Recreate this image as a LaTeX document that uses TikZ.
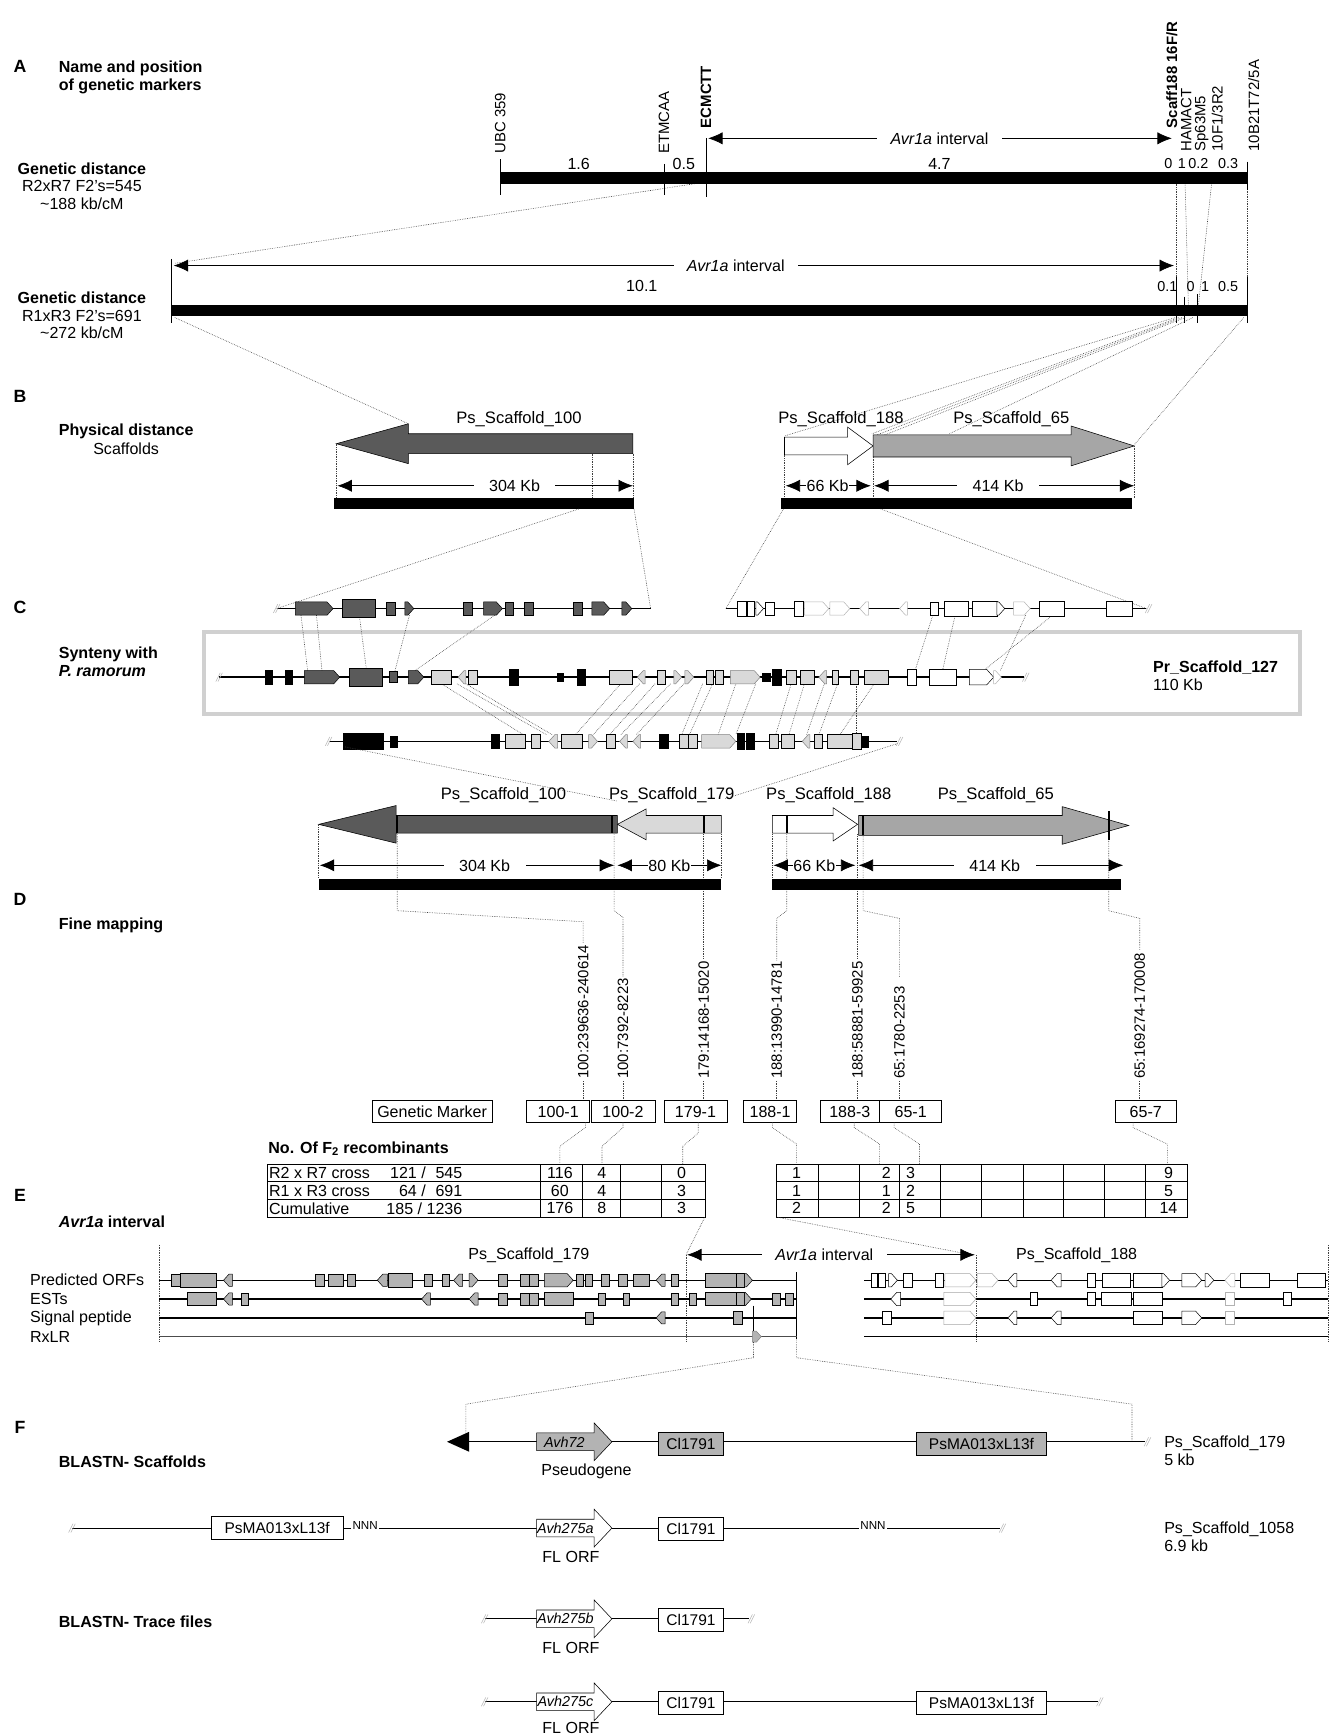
\documentclass[tikz,border=0pt]{standalone}
\usepackage{fontspec}
\setmainfont{Liberation Sans}
\usetikzlibrary{arrows.meta}
\definecolor{dg}{HTML}{5A5A5A}
\definecolor{mg}{HTML}{A6A6A6}
\definecolor{lg}{HTML}{D9D9D9}
\definecolor{eg}{HTML}{B3B3B3}
\definecolor{fr}{HTML}{D0D0D0}
\newcommand{\GB}[4]{\path[gene,#4] (#1,\gy-#3) rectangle (#2,\gy+#3);}
\newcommand{\GR}[4]{\path[gene,#4] (#1,\gy-#3) -- ({max(#1,#2-0.9*#3)},\gy-#3) -- (#2,\gy) -- ({max(#1,#2-0.9*#3)},\gy+#3) -- (#1,\gy+#3) -- cycle;}
\newcommand{\GL}[4]{\path[gene,#4] (#2,\gy-#3) -- ({min(#2,#1+0.9*#3)},\gy-#3) -- (#1,\gy) -- ({min(#2,#1+0.9*#3)},\gy+#3) -- (#2,\gy+#3) -- cycle;}
\newcommand{\ScL}[7]{\filldraw[draw=black,line width=0.5pt,fill=#7] (#1,#4) -- (#2,#4-#6) -- (#2,#4-#5) -- (#3,#4-#5) -- (#3,#4+#5) -- (#2,#4+#5) -- (#2,#4+#6) -- cycle;}
\newcommand{\ScR}[7]{\filldraw[draw=black,line width=0.5pt,fill=#7] (#1,#4-#5) -- (#2,#4-#5) -- (#2,#4-#6) -- (#3,#4) -- (#2,#4+#6) -- (#2,#4+#5) -- (#1,#4+#5) -- cycle;}
\newcommand{\Brk}[2]{\draw[gray!55,line width=0.5pt] (#1-3,#2+4)--(#1+1,#2-4) (#1-1,#2+4)--(#1+3,#2-4);}
\begin{document}
\begin{tikzpicture}[x=1pt,y=-1pt, font=\fontsize{14.5}{16}\selectfont,
 conn/.style={densely dotted, line width=0.55pt, black!75},
 dbl/.style={{Latex[length=13pt,width=11pt]}-{Latex[length=13pt,width=11pt]}, line width=0.6pt},
 wl/.style={fill=white, inner xsep=12pt, inner ysep=1pt},
 wk/.style={fill=white, inner xsep=14pt, inner ysep=1pt},
 wk0/.style={fill=white, inner xsep=0.5pt, inner ysep=1pt},
 gene/.style={draw=black, line width=0.45pt},
 track/.style={line width=1.3pt},
 sec/.style={font=\fontsize{16}{18}\selectfont\bfseries},
 hd/.style={font=\fontsize{14.5}{16.5}\selectfont\bfseries, anchor=west, align=left, inner sep=0pt},
 vlab/.style={rotate=90, anchor=west, inner sep=0pt, font=\fontsize{13.5}{15}\selectfont},
 vlabb/.style={rotate=90, anchor=west, inner sep=0pt, font=\fontsize{13.5}{15}\selectfont\bfseries},
 sclab/.style={font=\fontsize{15}{17}\selectfont},
 smn/.style={inner sep=0pt, font=\fontsize{13}{14}\selectfont},
 mbox/.style={draw, line width=0.5pt, minimum height=20pt, inner sep=0pt},
 fbox/.style={draw, line width=0.8pt, minimum height=21pt, inner sep=0pt, font=\fontsize{14}{15}\selectfont},
 avh/.style={font=\fontsize{13}{14}\selectfont\itshape, inner sep=0pt}
]
\useasboundingbox (0,0) rectangle (1206,1568);

% ================= A =================
\node[sec] (secA) at (18,60) {A};
\node[hd] (hA) at (53,70) {Name and position\\of genetic markers};
\node[align=center, font=\fontsize{14.5}{15.8}\selectfont] (gd1) at (74,168) {\textbf{Genetic distance}\\R2xR7 F2's=545\\\textasciitilde188 kb/cM};
\node[align=center, font=\fontsize{14.5}{15.8}\selectfont] (gd2) at (74,285) {\textbf{Genetic distance}\\R1xR3 F2's=691\\\textasciitilde272 kb/cM};

\draw[conn] (628,166) -- (158,238);
\draw[conn] (1063,166) -- (1063,276);
\draw[conn] (1071,166) -- (1074,276);
\draw[conn] (1095,166) -- (1083,276);
\draw[conn] (1127,166) -- (1127,276);

\fill (452,155) rectangle (1127,166);
\draw[line width=0.6pt] (452,144)--(452,176) (600,148)--(600,176) (638,125)--(638,178) (1127,146)--(1127,172);
\node[vlab] (mUBC) at (452,139) {UBC 359};
\node[vlab] (mET) at (600,139) {ETMCAA};
\node[vlabb] (mEC) at (638,116) {ECMCTT};
\node[vlabb] (mSC) at (1059,116) {Scaff188 16F/R};
\node[vlab] (mHA) at (1072,137) {HAMACT};
\node[vlab] (mSP) at (1086,137) {Sp63M5};
\node[vlab] (mTF) at (1100,137) {10F1/3R2};
\node[vlab] (mTB) at (1133,137) {10B21T72/5A};
\coordinate (av1L) at (640,125); \coordinate (av1R) at (1059,125);
\draw[dbl] (av1L) -- (av1R);
\node[wl] (av1) at (849,125) {\textit{Avr1a} interval};
\foreach \x/\t in {523/1.6, 618/0.5, 849/4.7} \node[inner sep=0pt] at (\x,148) {\t};
\foreach \x/\t in {1056/0, 1068/1, 1083/0.2, 1110/0.3} \node[smn] at (\x,148) {\t};

\fill (155,276) rectangle (1127,286);
\draw[line width=0.6pt] (155,234)--(155,292) (1063,250)--(1063,292) (1070,268)--(1070,292) (1082,266)--(1082,292) (1127,250)--(1127,292);
\coordinate (av2L) at (157,240); \coordinate (av2R) at (1061,240);
\draw[dbl] (av2L) -- (av2R);
\node[wl] (av2) at (665,240) {\textit{Avr1a} interval};
\node at (580,258) {10.1};
\foreach \x/\t in {1055/0.1, 1076/0, 1089/1, 1110/0.5} \node[smn] at (\x,259) {\t};

% ================= B =================
\node[sec] (secB) at (18,358) {B};
\node[align=center, font=\fontsize{14.5}{16.5}\selectfont] (hB) at (114,397) {\textbf{Physical distance}\\Scaffolds};
\draw[conn] (158,287) -- (369,383);
\draw[conn] (1062,287) -- (709,394);
\draw[conn] (1065,287) -- (788,392);
\draw[conn] (1068,287) -- (790,394);
\draw[conn] (1071,287) -- (792,396);
\draw[conn] (1078,287) -- (858,392);
\draw[conn] (1124,287) -- (1025,402);

\ScL{304}{369}{572}{401}{9}{18}{dg}
\node[sclab] (s100) at (469,379) {Ps\_Scaffold\_100};
\draw[conn] (304,401)--(304,450) (535,410)--(535,450) (572,410)--(572,450);
\draw[dbl] (305,439) -- (572,439);
\node[wk] at (465,439) {304 Kb};
\fill (302,450) rectangle (573,460);

\ScR{709}{766}{789}{403}{8}{17}{white}
\ScR{789}{968}{1025}{403}{10}{18}{mg}
\node[sclab] (s188) at (760,379) {Ps\_Scaffold\_188};
\node[sclab] (s65) at (914,379) {Ps\_Scaffold\_65};
\draw[conn] (709,411)--(709,450) (789,413)--(789,450) (1025,403)--(1025,450);
\draw[dbl] (710,439) -- (787,439);
\node[wk0] at (748,439) {66 Kb};
\draw[dbl] (790,439) -- (1025,439);
\node[wk] at (902,439) {414 Kb};
\fill (706,450) rectangle (1023,460);

\draw[conn] (523,460) -- (250,550);
\draw[conn] (573,460) -- (588,550);
\draw[conn] (708,460) -- (656,550);
\draw[conn] (796,460) -- (1036,550);

% ================= C =================
\node[sec] (secC) at (18,549) {C};
\node[hd] (hC) at (53,598) {Synteny with\\\textit{P. ramorum}};
\draw[fr, line width=3.5pt] (184,571) rectangle (1175,645);
\node[anchor=west, align=left, inner sep=0pt, font=\fontsize{14.5}{16}\selectfont] (pr127) at (1042,611) {\textbf{Pr\_Scaffold\_127}\\110 Kb};

\foreach \a/\b/\c/\d in {272/556/278/606, 286/556/291/606, 325/558/331/604, 370/556/357/606, 447/556/375/606,
  843/556/827/606, 863/557/852/605, 927/556/904/606, 950/557/889/606}
  \draw[conn] (\a,\b) -- (\c,\d);
\foreach \a/\c in {399/473, 413/494, 421/499, 561/520, 578/536, 592/551, 606/561, 618/575, 635/616, 644/623, 665/649, 683/665, 715/701, 727/713, 745/729, 757/740, 790/759, 774/774}
  \draw[conn] (\a,618) -- (\c,664);

\def\gy{550}
\draw[track] (250,550)--(588,550); \Brk{250}{550}
\foreach \a/\b/\h in {309/339/8, 349/357/6, 419/427/6, 457/464/6, 474/482/6, 518/526/6} {\GB{\a}{\b}{\h}{fill=dg}}
\foreach \a/\b in {267/301, 366/374, 437/454, 535/551, 562/571} {\GR{\a}{\b}{6}{fill=dg}}
\draw[track] (656,550)--(1036,550); \Brk{1038}{550}
\foreach \a/\b/\h in {666/674/7, 675/682/7, 692/700/6, 718/726/7, 841/848/6, 853/875/7, 879/901/7, 939/962/7, 1000/1023/7} {\GB{\a}{\b}{\h}{fill=white}}
\foreach \a/\b in {683/690, 901/908} {\GR{\a}{\b}{6}{fill=white}}
\foreach \a/\b in {727/749, 750/768, 916/931} {\GR{\a}{\b}{6}{fill=white,draw=gray!60}}
\foreach \a/\b in {777/785, 813/820} {\GL{\a}{\b}{6}{fill=white,draw=gray!60}}

\def\gy{612}
\draw[track] (198,612)--(925,612); \Brk{198}{612}\Brk{927}{612}
\foreach \a/\b/\h in {240/246/6, 258/264/6, 460/468/7, 504/509/4, 522/529/7, 689/696/4, 698/706/7} {\GB{\a}{\b}{\h}{fill=black}}
\foreach \a/\b in {275/307, 369/383} {\GR{\a}{\b}{6}{fill=dg}}
\foreach \a/\b/\h in {316/345/8, 352/359/5} {\GB{\a}{\b}{\h}{fill=dg}}
\foreach \a/\b in {390/408, 423/431, 551/571, 594/601, 638/645, 646/654, 711/720, 723/736, 752/758, 768/776, 781/803} {\GB{\a}{\b}{6}{fill=lg}}
\foreach \a/\b in {414/421, 576/583, 740/747} {\GL{\a}{\b}{6}{fill=lg,draw=gray}}
\foreach \a/\b in {609/616, 619/627, 660/687} {\GR{\a}{\b}{6}{fill=lg,draw=gray}}
\foreach \a/\b in {820/828, 840/864} {\GB{\a}{\b}{7}{fill=white}}
\GR{876}{898}{7}{fill=white}
\GR{898}{905}{6}{fill=white,draw=gray!60}

\def\gy{670}
\draw[track] (297,670)--(811,670); \Brk{297}{670}\Brk{813}{670}
\foreach \a/\b/\h in {310/346/7, 353/359/5, 444/451/6, 596/604/6, 666/673/7, 674/682/7, 778/785/5} {\GB{\a}{\b}{\h}{fill=black}}
\foreach \a/\b/\h in {457/475/6, 480/488/6, 507/526/6, 548/556/6, 614/622/6, 622/630/6, 695/703/6, 706/718/6, 736/743/6, 748/770/6, 770/778/7} {\GB{\a}{\b}{\h}{fill=lg}}
\foreach \a/\b in {496/504, 560/567, 572/579, 725/732} {\GL{\a}{\b}{6}{fill=lg,draw=gray}}
\foreach \a/\b in {532/540, 634/665} {\GR{\a}{\b}{6}{fill=lg,draw=gray}}

\draw[conn] (312,675) -- (558,724);
\draw[conn] (811,672) -- (655,722);

% ================= D (scaffolds) =================
\node[sclab] (d100) at (455,719) {Ps\_Scaffold\_100};
\node[sclab] (d179) at (607,719) {Ps\_Scaffold\_179};
\node[sclab] (d188) at (749,719) {Ps\_Scaffold\_188};
\node[sclab] (d65) at (900,719) {Ps\_Scaffold\_65};

\draw[conn] (288,746)--(288,794) (652,754)--(652,794) (698,754)--(698,794);
\draw[conn] (359,754)--(359,823)--(527,833)--(527,852);
\draw[conn] (555,754)--(555,823)--(563,829)--(563,883);
\draw[conn] (636,754)--(636,866);
\draw[conn] (711,754)--(711,823)--(702,830)--(702,868);
\draw[conn] (775,754)--(775,866);
\draw[conn] (780,754)--(780,823)--(813,830)--(813,883);
\draw[conn] (1002,754)--(1002,823)--(1030,830)--(1030,859);

\ScL{288}{358}{558}{745}{8}{17}{dg}
\ScL{558}{584}{652}{745}{8}{14}{lg}
\ScR{698}{753}{775}{745}{8}{15}{white}
\ScR{776}{960}{1020}{746}{9}{17}{mg}
\draw[line width=1.4pt] (359,737)--(359,753) (553,737)--(553,753) (636,737)--(636,753) (711,737)--(711,753) (780,737)--(780,755) (1002,733)--(1002,759);

\draw[dbl] (289,782) -- (555,782); \node[wk] at (438,782) {304 Kb};
\draw[dbl] (558,782) -- (652,782); \node[wk0] at (605,782) {80 Kb};
\draw[dbl] (699,782) -- (773,782); \node[wk0] at (736,782) {66 Kb};
\draw[dbl] (776,782) -- (1015,782); \node[wk] at (899,782) {414 Kb};
\fill (288,794) rectangle (652,804);
\fill (698,794) rectangle (1013,804);

\node[sec] (secD) at (18,813) {D};
\node[hd] (hD) at (53,836) {Fine mapping};

\foreach \x/\t in {527/100:239636-240614, 563/100:7392-8223, 636/179:14168-15020, 702/188:13990-14781, 775/188:58881-59925, 813/65:1780-2253, 1030/65:169274-170008}
  {\node[vlab] at (\x,975) {\t};
   \draw[conn] (\x,977)--(\x,995);}

\node[mbox, minimum width=109pt] (gm) at (390.5,1004.5) {Genetic Marker};
\node[mbox, minimum width=57pt] (m1001) at (504.5,1004.5) {100-1};
\node[mbox, minimum width=58pt] (m1002) at (563,1004.5) {100-2};
\node[mbox, minimum width=57pt] (m1791) at (628.5,1004.5) {179-1};
\node[mbox, minimum width=48pt] (m1881) at (696,1004.5) {188-1};
\node[mbox, minimum width=54pt] (m1883) at (768,1004.5) {188-3};
\node[mbox, minimum width=56pt] (m651) at (823,1004.5) {65-1};
\node[mbox, minimum width=55pt] (m657) at (1035.5,1004.5) {65-7};

\draw[conn] (529,1014)--(529,1019)--(506,1036)--(506,1052);
\draw[conn] (563,1014)--(563,1019)--(544,1036)--(544,1052);
\draw[conn] (631,1014)--(631,1024)--(617,1036)--(617,1052);
\draw[conn] (698,1014)--(698,1019)--(720,1034)--(720,1052);
\draw[conn] (772,1014)--(772,1019)--(795,1034)--(795,1052);
\draw[conn] (808,1014)--(808,1019)--(831,1034)--(831,1052);
\draw[conn] (1024,1014)--(1024,1019)--(1055,1034)--(1055,1052);

\node[anchor=west, font=\fontsize{14.5}{16}\selectfont\bfseries] (nof) at (239,1038) {No. Of F\textsubscript{2} recombinants};
\draw[line width=0.6pt] (242,1052) rectangle (637,1100);
\draw[line width=0.6pt] (242,1068)--(637,1068) (242,1084)--(637,1084);
\draw[line width=0.6pt] (488,1052)--(488,1100) (526,1052)--(526,1100) (561,1052)--(561,1100) (598,1052)--(598,1100);
\foreach \y/\a in {1060/R2 x R7 cross, 1076/R1 x R3 cross, 1092/Cumulative}
  {\node[anchor=west, inner sep=1pt] at (242,\y) {\a};}
\node[anchor=east, inner sep=0pt] at (385,1060) {121 /};
\node[anchor=east, inner sep=0pt] at (418,1060) {545};
\node[anchor=east, inner sep=0pt] at (385,1076) {64 /};
\node[anchor=east, inner sep=0pt] at (418,1076) {691};
\node[anchor=east, inner sep=0pt] at (418,1092) {185 / 1236};
\foreach \y/\p/\q/\r in {1060/116/4/0, 1076/60/4/3, 1092/176/8/3}
  {\node at (506,\y) {\p}; \node at (544,\y) {\q}; \node at (616,\y) {\r};}
\draw[line width=0.6pt] (702,1052) rectangle (1073,1100);
\draw[line width=0.6pt] (702,1068)--(1073,1068) (702,1084)--(1073,1084);
\foreach \x in {740,777,813,850,887,925,961,998,1035} \draw[line width=0.6pt] (\x,1052)--(\x,1100);
\foreach \y/\p/\q/\r/\s in {1060/1/2/3/9, 1076/1/1/2/5, 1092/2/2/5/14}
  {\node at (720,\y) {\p}; \node at (801,\y) {\q}; \node at (823,\y) {\r}; \node at (1056,\y) {\s};}

\draw[conn] (637,1100) -- (620,1134);
\draw[conn] (702,1100) -- (878,1134);

% ================= E =================
\node[sec] (secE) at (18,1080) {E};
\node[hd] (hE) at (53,1104) {\textit{Avr1a} interval};
\node (e179) at (478,1134) {Ps\_Scaffold\_179};
\node (e188) at (973,1134) {Ps\_Scaffold\_188};
\coordinate (av3L) at (621,1134); \coordinate (av3R) at (881,1134);
\draw[dbl] (av3L) -- (av3R);
\node[wl] (av3) at (745,1134) {\textit{Avr1a} interval};
\foreach \y/\t in {1157/Predicted ORFs, 1174/ESTs, 1191/Signal peptide, 1208/RxLR}
  \node[anchor=west, inner sep=0pt] at (27,\y) {\t};

\draw[conn] (144,1125)--(144,1212) (620,1134)--(620,1212) (882,1134)--(882,1212) (1200,1125)--(1200,1212);
\draw[line width=0.5pt] (720,1150)--(720,1210);
\draw[track] (144,1157)--(720,1157) (144,1174)--(720,1174) (144,1191)--(720,1191);
\draw[line width=0.8pt, black!70] (144,1208)--(720,1208);
\draw[track] (781,1157)--(1200,1157) (781,1174)--(1200,1174) (781,1191)--(1200,1191) (781,1208)--(1200,1208);

\def\gy{1157}
\foreach \a/\b/\h in {155/163/5.5, 163/195/6, 285/293/5.5, 297/310/5.5, 314/321/5.5, 351/373/6, 383/391/5.5, 400/406/5.5, 450/458/5.5, 470/478/5.5, 478/486/5.5, 521/527/5.5, 529/535/5.5, 543/551/5.5, 559/567/5.5, 572/587/5.5, 607/613/5.5, 637/665/6, 665/673/6} {\GB{\a}{\b}{\h}{fill=eg}}
\foreach \a/\b in {202/210, 341/350, 410/418, 593/601} {\GL{\a}{\b}{5.5}{fill=eg}}
\foreach \a/\b in {424/432, 492/518, 673/680} {\GR{\a}{\b}{6}{fill=eg}}
\foreach \a/\b in {787/793, 794/800, 816/824, 845/852, 983/990, 996/1021, 1024/1050, 1121/1147, 1172/1198} {\GB{\a}{\b}{6}{fill=white}}
\foreach \a/\b in {803/811, 1050/1057, 1068/1086, 1089/1097} {\GR{\a}{\b}{6}{fill=white}}
\foreach \a/\b in {854/882, 883/902} {\GR{\a}{\b}{6}{fill=white,draw=gray!70}}
\foreach \a/\b in {911/919, 950/959} {\GL{\a}{\b}{6}{fill=white}}
\GL{1107}{1116}{6}{fill=white,draw=gray!60}

\def\gy{1174}
\foreach \a/\b/\h in {169/195/6, 218/224/5.5, 450/458/5.5, 470/478/5.5, 478/486/5.5, 492/518/6, 541/547/5.5, 563/569/5.5, 607/613/5.5, 623/629/5.5, 637/665/6, 665/673/6, 698/705/5.5, 710/717/5.5} {\GB{\a}{\b}{\h}{fill=eg}}
\foreach \a/\b in {202/210, 381/389, 424/432} {\GL{\a}{\b}{5.5}{fill=eg}}
\GR{673}{679}{6}{fill=eg}
\foreach \a/\b in {931/937, 983/990, 995/1022, 1024/1050, 1160/1167} {\GB{\a}{\b}{6}{fill=white}}
\GL{805}{814}{6}{fill=white}
\GR{853}{882}{6}{fill=white,draw=gray!70}
\GB{1107}{1115}{6}{fill=white,draw=gray!60}

\def\gy{1191}
\GB{529}{536}{5.5}{fill=eg}
\GL{593}{601}{5.5}{fill=eg}
\GB{663}{671}{6}{fill=eg}
\foreach \a/\b in {797/805, 1024/1050} {\GB{\a}{\b}{6}{fill=white}}
\GR{853}{882}{6}{fill=white,draw=gray!70}
\foreach \a/\b in {911/919, 950/959} {\GL{\a}{\b}{6}{fill=white}}
\GR{1068}{1086}{6}{fill=white}
\GB{1107}{1115}{6}{fill=white,draw=gray!60}

\def\gy{1208}
\GR{680}{688}{5}{fill=eg,draw=gray}

% E -> F
\draw[line width=0.5pt] (681,1180)--(681,1203);
\draw[conn] (681,1213)--(681,1227)--(421,1269)--(421,1303);
\draw[conn] (720,1210)--(720,1227)--(1023,1269)--(1023,1303);

% ================= F =================
\node[sec] (secF) at (18,1290) {F};
\node[hd] (hF1) at (53,1321) {BLASTN- Scaffolds};
\node[hd] (hF2) at (53,1466) {BLASTN- Trace files};

\draw[line width=0.8pt] (420,1303) -- (1035,1303); \Brk{1037}{1303}
\fill (404,1303) -- (424,1294) -- (424,1312) -- cycle;
\ScR{485}{537}{553}{1303}{8}{17}{eg}
\node[avh] at (510,1303) {Avh72};
\node at (530,1330) {Pseudogene};
\node[fbox, fill=eg, minimum width=59pt] (c1) at (624.5,1305) {Cl1791};
\node[fbox, fill=eg, minimum width=118pt] (p1) at (887,1305) {PsMA013xL13f};
\node[anchor=west, align=left, inner sep=0pt] at (1052,1311) {Ps\_Scaffold\_179\\5 kb};

\draw[line width=0.8pt] (65,1381) -- (904,1381); \Brk{65}{1381}\Brk{906}{1381}
\node[fbox, fill=white, minimum width=119pt] (p2) at (250.5,1381) {PsMA013xL13f};
\node[fill=white, inner sep=1pt, font=\fontsize{10.5}{12}\selectfont] at (330,1379) {NNN};
\ScR{485}{537}{553}{1381}{8}{17}{white}
\node[avh] at (511,1381) {Avh275a};
\node at (516,1407) {FL ORF};
\node[fbox, fill=white, minimum width=59pt] (c2) at (624.5,1382) {Cl1791};
\node[fill=white, inner sep=1pt, font=\fontsize{10.5}{12}\selectfont] at (789,1379) {NNN};
\node[anchor=west, align=left, inner sep=0pt] at (1052,1389) {Ps\_Scaffold\_1058\\6.9 kb};

\draw[line width=0.8pt] (438,1463) -- (677,1463); \Brk{438}{1463}\Brk{679}{1463}
\ScR{485}{537}{553}{1463}{8}{17}{white}
\node[avh] at (511,1463) {Avh275b};
\node at (516,1489) {FL ORF};
\node[fbox, fill=white, minimum width=59pt] (c3) at (624.5,1464) {Cl1791};

\draw[line width=0.8pt] (438,1538) -- (992,1538); \Brk{438}{1538}\Brk{994}{1538}
\ScR{485}{537}{553}{1538}{8}{17}{white}
\node[avh] at (511,1538) {Avh275c};
\node at (516,1562) {FL ORF};
\node[fbox, fill=white, minimum width=59pt] (c4) at (624.5,1539) {Cl1791};
\node[fbox, fill=white, minimum width=118pt] (p4) at (887,1539) {PsMA013xL13f};
\end{tikzpicture}
\end{document}
